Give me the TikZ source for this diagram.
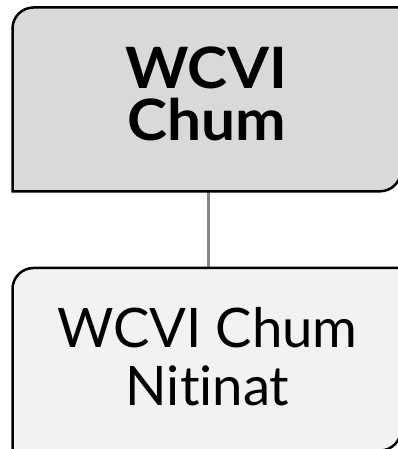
\documentclass[tikz,border=0pt]{standalone}
\usepackage{fontspec}
\setmainfont{Lato}[Ligatures={NoCommon,NoRare}]
\usetikzlibrary{calc}
\definecolor{topfill}{HTML}{D9D9D9}
\definecolor{botfill}{HTML}{F2F2F2}
\definecolor{linkgray}{HTML}{858585}
\tikzset{
  boxarea/.style={draw=none, inner sep=0pt, outer sep=0pt, minimum width=388.5pt},
  boxline/.style={draw=black, line width=2.5pt},
  boxtext/.style={align=center, inner sep=0pt},
  link/.style={draw=linkgray, line width=2.6pt}
}
\begin{document}
\begin{tikzpicture}[x=1pt,y=1pt]
\useasboundingbox (0,0) rectangle (398,449);
\clip (0,0) rectangle (398,449);
% box placeholders
\node[boxarea, minimum height=183.8pt] (top) at (206.75,349.6) {};
\node[boxarea, minimum height=182.5pt] (bot) at (206.75,89.75) {};
% connector
\draw[link] ([xshift=1.5pt]top.south) -- ([xshift=1.5pt]bot.north);
% shapes
\path[boxline, fill=topfill] (top.south west) -- ([yshift=-21pt]top.north west)
  arc[start angle=180, end angle=90, radius=21pt] -- (top.north east)
  -- ([yshift=21pt]top.south east) arc[start angle=0, end angle=-90, radius=21pt] -- cycle;
\path[boxline, fill=botfill] (bot.south west) -- ([yshift=-21pt]bot.north west)
  arc[start angle=180, end angle=90, radius=21pt] -- (bot.north east)
  -- ([yshift=21pt]bot.south east) arc[start angle=0, end angle=-90, radius=21pt] -- cycle;
% texts
\node[boxtext, font=\fontsize{57}{52}\selectfont\bfseries, xscale=1.06] (toptext) at (206.5,355) {WCVI\\Chum};
\node[boxtext, font=\fontsize{54.5}{58}\selectfont] (bottext) at (207.5,92.5) {WCVI Chum\\Nitinat};
\end{tikzpicture}
\end{document}
